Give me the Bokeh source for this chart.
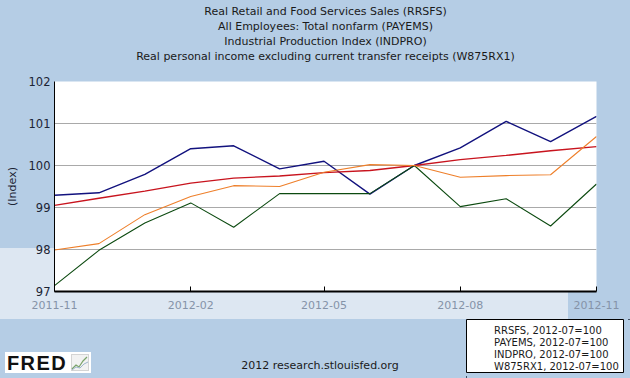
from datetime import datetime
from bokeh.plotting import figure
from bokeh.layouts import column, row
from bokeh.models import (Legend, LegendItem, Title, FixedTicker, Div,
                          DatetimeTickFormatter, Range1d)
from bokeh.embed import file_html
from bokeh.resources import INLINE

# ---- data (index, 2012-07 = 100) ----
months = ["2011-11", "2011-12", "2012-01", "2012-02", "2012-03", "2012-04", "2012-05",
          "2012-06", "2012-07", "2012-08", "2012-09", "2012-10", "2012-11"]
rrsfs = [99.29, 99.35, 99.79, 100.40, 100.47, 99.92, 100.10, 99.32, 100.00, 100.42, 101.05, 100.57, 101.17]
payems = [99.05, 99.22, 99.39, 99.58, 99.70, 99.75, 99.83, 99.88, 100.00, 100.14, 100.24, 100.35, 100.45]
indpro = [97.14, 97.98, 98.63, 99.11, 98.53, 99.33, 99.33, 99.33, 100.00, 99.02, 99.21, 98.56, 99.56]
w875rx1 = [97.99, 98.14, 98.83, 99.26, 99.52, 99.50, 99.84, 100.02, 100.00, 99.72, 99.76, 99.78, 100.69]

tick_labels = ["2011-11", "2012-02", "2012-05", "2012-08", "2012-11"]
y_ticks = [97, 98, 99, 100, 101, 102]

series_names = ["RRSFS", "PAYEMS", "INDPRO", "W875RX1"]
legend_labels = [n + ", 2012-07=100" for n in series_names]
title_lines = ["Real Retail and Food Services Sales (RRSFS)",
               "All Employees: Total nonfarm (PAYEMS)",
               "Industrial Production Index (INDPRO)",
               "Real personal income excluding current transfer receipts (W875RX1)"]
footer_text = "2012 research.stlouisfed.org"

line_colors = ["#12127e", "#c8141e", "#0c4a10", "#ee7f2a"]
swatch_colors = ["#1010d0", "#e0101e", "#0a6a14", "#f28030"]
line_widths = [1.4, 1.4, 1.1, 1.1]

dates = [datetime.strptime(m, "%Y-%m") for m in months]
tick_dates = [datetime.strptime(t, "%Y-%m") for t in tick_labels]
tick_ms = [(d - datetime(1970, 1, 1)).total_seconds() * 1000 for d in tick_dates]

BG = "#b5cde5"
BAND = "#dde7f2"
FONT = "DejaVu Sans"

W, H = 630, 378
TOP_H = 319
BOT_H = H - TOP_H

# ---------------- main chart ----------------
p = figure(width=W, height=TOP_H, x_axis_type="datetime", sizing_mode="fixed",
           output_backend="svg", toolbar_location=None, title=None,
           x_range=Range1d(dates[0], dates[-1]), y_range=Range1d(97, 102),
           min_border_left=54, min_border_right=34, min_border_top=81, min_border_bottom=28,
           background_fill_color="white", border_fill_color=None, outline_line_color=None)
p.styles = {"background-color": BG,
            "background-image": "linear-gradient(%s, %s)" % (BAND, BAND),
            "background-size": "568px 71px",
            "background-position": "0px 248px",
            "background-repeat": "no-repeat"}

# spacer between plot and the title block, then four centred title lines
p.add_layout(Title(text=" ", text_font=FONT, text_font_size="11px", standoff=4), "above")
for line in reversed(title_lines):
    t = Title(text=line, align="center", offset=-8,
              text_font=FONT, text_font_size="11px", text_font_style="normal",
              text_color="#1a1a1a", standoff=0)
    p.add_layout(t, "above")

# axes
xa = p.xaxis[0]
xa.ticker = FixedTicker(ticks=tick_ms)
xa.formatter = DatetimeTickFormatter(years="%Y-%m", months="%Y-%m", days="%Y-%m",
                                     hours="%Y-%m", minutes="%Y-%m", seconds="%Y-%m",
                                     milliseconds="%Y-%m", microseconds="%Y-%m")
xa.axis_line_color = "black"
xa.axis_line_width = 2
xa.major_tick_in = 5
xa.major_tick_out = 0
xa.major_tick_line_color = "black"
xa.minor_tick_line_color = None
xa.major_label_text_font = FONT
xa.major_label_text_font_size = "11px"
xa.major_label_text_color = "#8593a8"
xa.major_label_standoff = 9

ya = p.yaxis[0]
ya.ticker = FixedTicker(ticks=y_ticks)
ya.axis_label = "(Index)"
ya.axis_label_text_font = FONT
ya.axis_label_text_font_size = "11px"
ya.axis_label_text_font_style = "normal"
ya.axis_label_text_color = "#1c2434"
ya.axis_label_standoff = 7
ya.axis_line_color = "black"
ya.major_tick_in = 0
ya.major_tick_out = 0
ya.minor_tick_line_color = None
ya.major_label_text_font = FONT
ya.major_label_text_font_size = "11.5px"
ya.major_label_text_color = "#1c2434"
ya.major_label_standoff = 4

p.xgrid.grid_line_color = None
p.ygrid.grid_line_color = "#a9a9a9"
p.ygrid.grid_line_width = 1

for vals, c, w in zip([rrsfs, payems, indpro, w875rx1], line_colors, line_widths):
    p.line(dates, vals, line_color=c, line_width=w)

# ---------------- legend box ----------------
LEG_W = 164
lf = figure(width=LEG_W, height=BOT_H, sizing_mode="fixed", output_backend="svg",
            toolbar_location=None, min_border_left=0, min_border_top=0,
            min_border_right=7, min_border_bottom=6,
            x_axis_location=None, y_axis_location=None,
            background_fill_color="white", border_fill_color=BG,
            outline_line_color="black", outline_line_width=1)
lf.grid.grid_line_color = None
items = []
for lab, c in zip(legend_labels, swatch_colors):
    r = lf.line([], [], line_color=c, line_width=3)
    items.append(LegendItem(label=lab, renderers=[r]))
legend = Legend(items=items, location=(6, 0), orientation="vertical",
                border_line_color=None, background_fill_alpha=0,
                label_text_font=FONT, label_text_font_size="10px",
                label_text_color="#1a1a1a",
                glyph_width=10, glyph_height=12, label_height=12, spacing=0,
                padding=2, margin=0, label_standoff=12)
lf.add_layout(legend)

# ---------------- footer (logo + source line) ----------------
FOOT_W = W - LEG_W
footer_html = (
    '<div style="position:relative;width:%dpx;height:%dpx;overflow:hidden;">' % (FOOT_W, BOT_H) +
    '<div style="position:absolute;left:5px;top:33px;width:86px;height:21px;'
    'background:white;"></div>'
    '<div style="position:absolute;left:7px;top:34px;font-family:\'Liberation Sans\';'
    'font-weight:bold;font-size:20px;line-height:20px;letter-spacing:1.4px;color:#111;">FRED</div>'
    '<svg style="position:absolute;left:71px;top:35px;" width="18" height="17">'
    '<rect x="0.5" y="0.5" width="17" height="16" fill="#f2f2f2" stroke="#d4d4d4"/>'
    '<polyline points="1,15 5,11 8,13 12,7 16,3" fill="none" stroke="#7aa36a" stroke-width="1.2"/>'
    '<polyline points="1,16 5,13 9,14 13,10 17,8" fill="none" stroke="#9fb6cc" stroke-width="1"/>'
    '</svg>'
    '<div style="position:absolute;left:220px;width:200px;top:40px;text-align:center;'
    'font-family:\'DejaVu Sans\';font-size:11px;line-height:14px;color:#1a1a1a;">'
    + footer_text + '</div>'
    '</div>'
)
footer = Div(text=footer_html, width=FOOT_W, height=BOT_H, sizing_mode="fixed",
             styles={"background-color": BG, "overflow": "hidden", "margin": "0", "padding": "0"})

bottom = row(footer, lf, spacing=0, sizing_mode="fixed", width=W, height=BOT_H)
layout = column(p, bottom, spacing=0, sizing_mode="fixed", width=W, height=H)
layout.styles = {"background-color": BG, "outline": "2px solid #1c2638",
                 "outline-offset": "-2px"}

open("out.html", "w").write(file_html(layout, INLINE))
